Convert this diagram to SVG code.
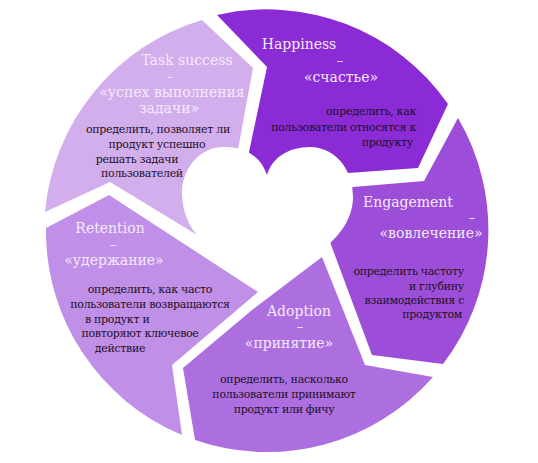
<svg xmlns="http://www.w3.org/2000/svg" width="538" height="463" viewBox="0 0 538 463">
<style>
text{font-family:"DejaVu Serif",serif}
.t{font-size:14px;fill:#f4eafc}
.s{font-size:13px;fill:#f4eafc}
.d{font-size:11px;letter-spacing:-0.3px;fill:#1c1026}
.m{text-anchor:middle}
.e{text-anchor:end}
</style>
<rect width="538" height="463" fill="#ffffff"/>
<g id="task-success">
<path d="M110,182 L45,212 A221,221 0 0 1 202,20 L253,68 L237,155 L235,215 L202,238 Z" fill="#d3aeed"/>
<text class="t m" x="187" y="65">Task success</text>
<text class="s m" x="170" y="81">–</text>
<text class="t m" x="172" y="97">«успех выполнения</text>
<text class="t m" x="169" y="113">задачи»</text>
<text class="d m" x="158" y="133">определить, позволяет ли</text>
<text class="d m" x="157" y="148">продукт успешно</text>
<text class="d m" x="137" y="163">решать задачи</text>
<text class="d m" x="142" y="177">пользователей</text>
</g>
<g id="happiness">
<path d="M217,15 A221,221 0 0 1 448,104 L418,168 L348,173 L330,195 L252,190 L249,152 L267,67 Z" fill="#8a2bd6"/>
<text class="t m" x="299" y="49">Happiness</text>
<text class="s m" x="340" y="65">–</text>
<text class="t m" x="341" y="82">«счастье»</text>
<text class="d e" x="416" y="115">определить, как</text>
<text class="d e" x="416" y="131">пользователи относятся к</text>
<text class="d e" x="413" y="146">продукту</text>
</g>
<g id="engagement">
<path d="M458,118 A221,221 0 0 1 443,364 L372,355 L330,242 L320,215 L353,187 L424,181 Z" fill="#9d4ed9"/>
<text class="t m" x="408" y="207">Engagement</text>
<text class="s m" x="472" y="222">–</text>
<text class="t m" x="431" y="238">«вовлечение»</text>
<text class="d e" x="464" y="275">определить частоту</text>
<text class="d e" x="464" y="290">и глубину</text>
<text class="d e" x="464" y="304">взаимодействия с</text>
<text class="d e" x="462" y="318">продуктом</text>
</g>
<g id="adoption">
<path d="M433,377 A221,221 0 0 1 195,440 L183,368 L252,310 L322,257 L365,365 Z" fill="#ad6fe0"/>
<text class="t m" x="299" y="316">Adoption</text>
<text class="s m" x="300" y="331">–</text>
<text class="t m" x="289" y="348">«принятие»</text>
<text class="d m" x="284" y="383">определить, насколько</text>
<text class="d m" x="284" y="398">пользователи принимают</text>
<text class="d m" x="284" y="413">продукт или фичу</text>
</g>
<g id="retention">
<path d="M182,435 A221,221 0 0 1 46,228 L109,195 L258,292 L172,365 Z" fill="#c08fe7"/>
<text class="t m" x="110" y="233">Retention</text>
<text class="s m" x="113" y="249">–</text>
<text class="t m" x="114" y="265">«удержание»</text>
<text class="d m" x="150" y="293">определить, как часто</text>
<text class="d m" x="150" y="308">пользователи возвращаются</text>
<text class="d" x="85" y="323">в продукт и</text>
<text class="d m" x="140" y="337">повторяют ключевое</text>
<text class="d m" x="120" y="352">действие</text>
</g>
<g id="heart">
<path d="M267,175 C261,156 244,146 222,147 C198,148 182,170 182,193 C182,215 192,232 206,245 L262,290 L322,250 C340,236 353,218 353,197 C353,168 334,147 310,147 C288,147 272,158 267,175 Z" fill="#ffffff"/>
</g>
</svg>
